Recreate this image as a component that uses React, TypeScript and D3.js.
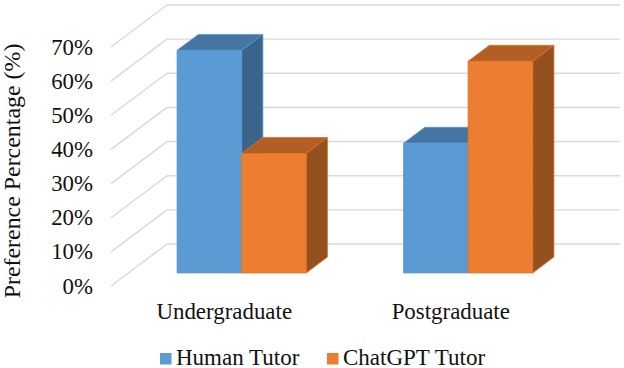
import React from 'react';
import * as d3 from 'd3';

const categories = ['Undergraduate', 'Postgraduate'];
const seriesNames = ['Human Tutor', 'ChatGPT Tutor'];
const humanValues = [65.2, 38];
const chatgptValues = [35, 62];
const yTicks = [0, 10, 20, 30, 40, 50, 60, 70];

const seriesValues = [humanValues, chatgptValues];
const faceColors = [
    { front: '#5b9bd5', side: '#3a6489', top: '#4576a3', edge: '#5a97cf' },
    { front: '#ed7d31', side: '#94501e', top: '#b25e24', edge: '#dd7229' },
];

const width = 624;
const height = 368;
const serif = '"Liberation Serif", serif';
const textColor = '#111';

// floor depth: how far the back wall is moved from the front plane
const depthX = 56;
const depthY = 42;
const barDepth0 = 0.31;
const barDepth1 = 0.69;

const App = () => {
    const y = d3.scaleLinear().domain([0, 70]).range([286, 47]);
    const x0 = d3.scaleBand().domain(categories).range([111, 564]).paddingInner(0.43).paddingOuter(0.215);
    const x1 = d3.scaleBand().domain(seriesNames).range([0, x0.bandwidth()]);
    const line = d3.line();

    const project = (px: number, py: number, depth: number): [number, number] => [
        px + depthX * depth,
        py - depthY * depth,
    ];

    const poly = (pts: [number, number][]) => line(pts) + 'Z';

    return (
        <svg width={width} height={height} style={{ position: 'absolute', left: 0, top: 0, background: '#fff' }}>
            {/* walls */}
            {yTicks.map((t) => {
                const back = project(111, y(t), 1);
                return (
                    <g key={t} fill="none" stroke="#d9d9d9" strokeWidth={1.4}>
                        <path d={line([[111, y(t)], back])!} />
                        <path d={line([back, [back[0] + 453, back[1]]])!} />
                    </g>
                );
            })}

            {/* bars, back faces first so the right bar covers its neighbour's top */}
            {categories.map((c, ci) =>
                seriesNames.map((s, si) => {
                    const left = x0(c)! + x1(s)!;
                    const right = left + x1.bandwidth();
                    const base = y(0);
                    const top = y(seriesValues[si][ci]);
                    const col = faceColors[si];
                    const a = project(left, top, barDepth0);
                    const b = project(right, top, barDepth0);
                    const cc = project(right, base, barDepth0);
                    const d = project(left, base, barDepth0);
                    const e = project(left, top, barDepth1);
                    const f = project(right, top, barDepth1);
                    const g = project(right, base, barDepth1);
                    return (
                        <g key={c + s} strokeWidth={0.8} stroke={col.edge} strokeLinejoin="round">
                            <path d={poly([a, e, f, b])} fill={col.top} />
                            <path d={poly([b, f, g, cc])} fill={col.side} />
                            <path d={poly([a, b, cc, d])} fill={col.front} />
                        </g>
                    );
                })
            )}

            {/* y tick labels */}
            {yTicks.map((t) => (
                <text
                    key={t}
                    x={93}
                    y={y(t) + 7.5}
                    textAnchor="end"
                    fontFamily={serif}
                    fontSize={22.8}
                    fill={textColor}
                >
                    {t}%
                </text>
            ))}

            <text
                transform="translate(20,171) rotate(-90)"
                textAnchor="middle"
                fontFamily={serif}
                fontSize={23.9}
                fill={textColor}
            >
                Preference Percentage (%)
            </text>

            {categories.map((c) => (
                <text
                    key={c}
                    x={x0(c)! + x0.bandwidth() / 2}
                    y={319}
                    textAnchor="middle"
                    fontFamily={serif}
                    fontSize={22.9}
                    fill={textColor}
                >
                    {c}
                </text>
            ))}

            {/* legend */}
            {seriesNames.map((s, i) => {
                const lx = [160, 327][i];
                return (
                    <g key={s}>
                        <rect x={lx} y={353} width={11.5} height={11.5} fill={faceColors[i].front} />
                        <text x={lx + 16} y={365} fontFamily={serif} fontSize={23} fill={textColor}>
                            {s}
                        </text>
                    </g>
                );
            })}
        </svg>
    );
};

export default App;
